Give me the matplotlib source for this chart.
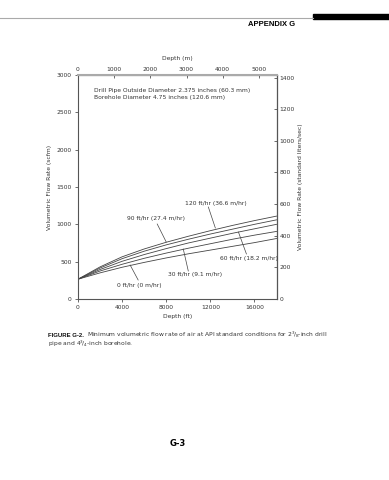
import matplotlib
matplotlib.use("Agg")
import matplotlib.pyplot as plt

depth_ft = [0, 2000, 4000, 6000, 8000, 10000, 12000, 14000, 16000, 18000]
rate_labels = ["0 ft/hr (0 m/hr)", "30 ft/hr (9.1 m/hr)", "60 ft/hr (18.2 m/hr)",
               "90 ft/hr (27.4 m/hr)", "120 ft/hr (36.6 m/hr)"]
q_0 = [265, 350, 425, 490, 550, 605, 655, 705, 755, 810]
q_30 = [265, 375, 465, 545, 615, 680, 740, 800, 855, 905]
q_60 = [265, 395, 505, 595, 675, 750, 815, 880, 940, 1000]
q_90 = [265, 415, 540, 640, 725, 800, 870, 935, 1000, 1060]
q_120 = [265, 430, 565, 670, 760, 840, 915, 985, 1050, 1110]
series = [q_0, q_30, q_60, q_90, q_120]

x_ticks_ft = [0, 4000, 8000, 12000, 16000]
y_ticks_scfm = [0, 500, 1000, 1500, 2000, 2500, 3000]
x_ticks_m = [0, 1000, 2000, 3000, 4000, 5000]
y_ticks_ls = [0, 200, 400, 600, 800, 1000, 1200, 1400]

FT2M = 0.3048
SCFM2LS = 0.471947

W, H = 389, 480
fig = plt.figure(figsize=(W / 100, H / 100), dpi=100)
fs = 4.3
col = "#333333"

ax = fig.add_axes([78 / W, 1 - 299 / H, (277 - 78) / W, (299 - 75) / H])
for q in series:
    ax.plot(depth_ft, q, color="#444444", lw=0.6)
ax.set_xlim(0, 5500 / FT2M)
ax.set_ylim(0, 3000)
ax.set_xticks(x_ticks_ft)
ax.set_yticks(y_ticks_scfm)
ax.tick_params(labelsize=fs, length=2.5, width=0.5, colors=col, pad=2)
for s in ["left", "bottom", "right"]:
    ax.spines[s].set_linewidth(0.8)
    ax.spines[s].set_color("#555555")
ax.spines["top"].set_linewidth(1.5)
ax.spines["top"].set_color("#aaaaaa")
ax.set_xlabel("Depth (ft)", fontsize=fs, color=col, labelpad=3)
ax.set_ylabel("Volumetric Flow Rate (scfm)", fontsize=fs, color=col, labelpad=3)

secx = ax.secondary_xaxis("top", functions=(lambda x: x * FT2M, lambda m: m / FT2M))
secx.set_xticks(x_ticks_m)
secx.tick_params(labelsize=fs, length=2.5, width=0.5, colors=col, direction="in", pad=2)
secx.set_xlabel("Depth (m)", fontsize=fs, color=col, labelpad=5)

secy = ax.secondary_yaxis("right", functions=(lambda q: q * SCFM2LS, lambda l: l / SCFM2LS))
secy.set_yticks(y_ticks_ls)
secy.tick_params(labelsize=fs, length=2.5, width=0.5, colors=col, direction="in", pad=2)
secy.set_ylabel("Volumetric Flow Rate (standard liters/sec)", fontsize=fs, color=col, labelpad=2)

ax.text(0.08, 0.94, "Drill Pipe Outside Diameter 2.375 inches (60.3 mm)\nBorehole Diameter 4.75 inches (120.6 mm)",
        transform=ax.transAxes, fontsize=fs, color=col, va="top", linespacing=1.3)


def px2data(px, py):
    return ((px - 78) / 11.0 * 1000, (299 - py) / 0.07467)


ann = [
    (4, (185, 203), (208, 207), (215, 228)),
    (3, (127, 218), (157, 224), (166, 242)),
    (2, (220, 258.7), (238, 232), (246, 254)),
    (1, (168, 274), (183, 249), (188, 271)),
    (0, (117, 285), (130, 265), (138, 280)),
]
for i, tp, a, b in ann:
    tx, ty = px2data(*tp)
    ax.text(tx, ty, rate_labels[i], fontsize=fs, color=col, va="center", ha="left")
    ax.plot([px2data(*a)[0], px2data(*b)[0]], [px2data(*a)[1], px2data(*b)[1]],
            color="#444444", lw=0.5)

# page decorations
fig.add_artist(plt.Line2D([0, 313 / W], [1 - 18 / H, 1 - 18 / H], color="#aaaaaa", lw=0.8))
fig.add_artist(plt.Rectangle((313 / W, 1 - 19 / H), (W - 313) / W, 5 / H, color="black"))
fig.text(295 / W, 1 - 25 / H, "APPENDIX G", fontsize=5.5, fontweight="bold", ha="right", va="center",
         family="Liberation Sans")
bold = fig.text(48 / W, 1 - 337 / H, "FIGURE G-2.", fontsize=fs, fontweight="bold", color="#111111",
                va="baseline", family="Liberation Sans")
fig.canvas.draw()
bb = bold.get_window_extent()
fig.text((bb.x1 + 3) / W, 1 - 337 / H,
         "Minimum volumetric flow rate of air at API standard conditions for 2$^3\\!/_8$-inch drill",
         fontsize=fs, color=col, va="baseline")
fig.text(48 / W, 1 - 346 / H, "pipe and 4$^3\\!/_4$-inch borehole.", fontsize=fs, color=col, va="baseline")
fig.text(178 / W, 1 - 444 / H, "G-3", fontsize=6, fontweight="bold", ha="center", va="center")

fig.savefig("out.png", dpi=100)
